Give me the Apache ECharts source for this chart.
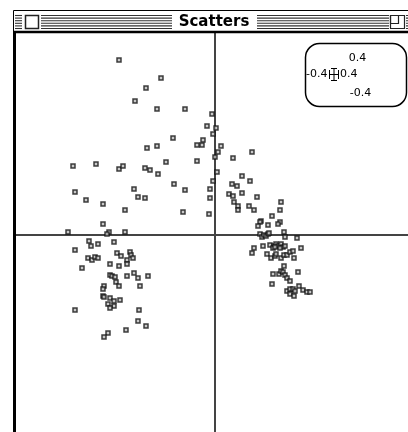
<!DOCTYPE html>
<html>
<head>
<meta charset="utf-8">
<script src="https://cdn.jsdelivr.net/npm/echarts@6/dist/echarts.min.js"></script>
<style>
html,body{margin:0;padding:0;background:#fff;}
#chart{width:408px;height:432px;}
</style>
</head>
<body>
<div id="chart"></div>
<script>
// ---- data (x, y) ----
const windowTitle = 'Scatters';
const scaleLabels = ['0.4', '-0.4', '0.4', '-0.4']; // top, left, right, bottom

const upperLeft = [
  [-0.96,1.75],[-0.54,1.57],[-0.69,1.47],[-0.80,1.34],[-0.58,1.26],[-0.30,1.26],
  [-0.03,1.21],[-0.08,1.09],[0.01,1.07],[-0.02,1.01],[-0.42,0.97],[-0.12,0.95],
  [-0.18,0.90],[-0.13,0.90],[-0.58,0.89],[-0.68,0.87],[0.06,0.89],[0.03,0.83],
  [0.00,0.78],[-1.42,0.69],[-1.19,0.71],[-0.96,0.66],[-0.92,0.69],[-0.70,0.67],
  [-0.65,0.65],[-0.49,0.73],[-0.57,0.61],[-0.18,0.74],[0.02,0.63],[-0.41,0.51],
  [-0.02,0.54],[-0.30,0.45],[-0.05,0.46],[-1.40,0.43],[-0.81,0.46],[-1.29,0.35],
  [-0.77,0.38],[-0.70,0.37],[-0.05,0.37],[-1.12,0.31],[-0.90,0.25],[-0.32,0.23],
  [-0.06,0.21],[-1.12,0.11],[-1.47,0.03],[-1.06,0.03],[-1.08,0.01],[-0.90,0.03]
];

const lowerLeft = [
  [-1.26,-0.06],[-1.24,-0.11],[-1.17,-0.09],[-1.01,-0.07],[-1.40,-0.15],[-0.98,-0.18],
  [-0.94,-0.21],[-0.85,-0.17],[-0.84,-0.20],[-0.82,-0.23],[-0.88,-0.25],[-0.88,-0.29],
  [-1.27,-0.23],[-1.23,-0.25],[-1.20,-0.22],[-1.17,-0.23],[-1.05,-0.29],[-0.96,-0.31],
  [-1.33,-0.33],[-1.05,-0.40],[-1.03,-0.41],[-1.00,-0.42],[-0.81,-0.38],[-0.77,-0.43],
  [-0.88,-0.41],[-0.67,-0.41],[-0.99,-0.47],[-0.96,-0.51],[-0.75,-0.51],[-1.11,-0.51],
  [-1.12,-0.54],[-1.12,-0.61],[-1.11,-0.62],[-1.05,-0.63],[-1.01,-0.66],[-0.95,-0.65],
  [-1.07,-0.69],[-1.01,-0.71],[-1.05,-0.73],[-1.40,-0.75],[-0.76,-0.75],[-0.77,-0.86],
  [-0.69,-0.91],[-0.89,-0.95],[-1.07,-0.98],[-1.11,-1.02]
];

const rightGroup = [
  [0.18,0.77],[0.37,0.83],[0.27,0.59],[0.35,0.54],[0.17,0.51],[0.22,0.49],
  [0.14,0.41],[0.18,0.39],[0.27,0.42],[0.42,0.38],[0.19,0.33],[0.66,0.33],
  [0.23,0.29],[0.23,0.25],[0.34,0.29],[0.39,0.25],[0.65,0.25],[0.57,0.19],
  [0.46,0.14],[0.45,0.13],[0.53,0.10],[0.43,0.09],[0.65,0.13],[0.63,0.11],
  [0.69,0.03],[0.45,0.01],[0.47,-0.02],[0.49,0.00],[0.51,-0.01],[0.53,0.01],
  [0.54,0.02],[0.70,-0.02],[0.82,-0.03],[0.39,-0.13],[0.48,-0.11],[0.37,-0.18],
  [0.55,-0.10],[0.59,-0.11],[0.58,-0.13],[0.61,-0.09],[0.63,-0.11],[0.66,-0.09],
  [0.68,-0.12],[0.70,-0.11],[0.65,-0.13],[0.60,-0.12],[0.86,-0.13],[0.52,-0.19],
  [0.56,-0.23],[0.60,-0.21],[0.61,-0.19],[0.66,-0.23],[0.69,-0.20],[0.72,-0.20],
  [0.75,-0.17],[0.78,-0.16],[0.79,-0.23],[0.69,-0.31],[0.58,-0.39],[0.64,-0.39],
  [0.66,-0.36],[0.68,-0.37],[0.70,-0.40],[0.72,-0.43],[0.75,-0.46],[0.83,-0.37],
  [0.57,-0.49],[0.84,-0.51],[0.88,-0.55],[0.92,-0.57],[0.95,-0.57],[0.72,-0.56],
  [0.75,-0.54],[0.78,-0.54],[0.80,-0.56],[0.75,-0.59],[0.79,-0.61]
];

// ---- window chrome ----
const graphics = [];
graphics.push({type:'rect', z:100, shape:{x:13.5,y:10.5,width:400,height:21}, style:{fill:'#fff',stroke:'#000',lineWidth:1}});
const stripeSegs = [[15,22],[41,172],[257,389],[406,412]];
for (let i = 0; i < 6; i++) {
  const y = 15.5 + i * 2.6;
  stripeSegs.forEach(s => graphics.push({type:'line', z:101, shape:{x1:s[0],y1:y,x2:s[1],y2:y}, style:{stroke:'#333',lineWidth:1.1}}));
}
graphics.push({type:'rect', z:102, shape:{x:25.5,y:15.5,width:13,height:13}, style:{fill:'#fff',stroke:'#222',lineWidth:1.5}});
graphics.push({type:'text', z:102, style:{text:windowTitle, x:214, y:22, textAlign:'center', textVerticalAlign:'middle', font:'bold 15px "DejaVu Sans"', fill:'#000'}});
graphics.push({type:'rect', z:102, shape:{x:390.5,y:15.5,width:14,height:13}, style:{fill:'#fff',stroke:'#222',lineWidth:1.2}});
graphics.push({type:'rect', z:103, shape:{x:390.5,y:15.5,width:8,height:8}, style:{fill:'none',stroke:'#222',lineWidth:1.2}});
graphics.push({type:'line', z:104, shape:{x1:13,y1:32,x2:412,y2:32}, style:{stroke:'#000',lineWidth:2.5}});
graphics.push({type:'line', z:104, shape:{x1:14.5,y1:31,x2:14.5,y2:440}, style:{stroke:'#000',lineWidth:3}});
// scale legend box
graphics.push({type:'rect', z:110, shape:{x:305.5,y:43.5,width:101,height:63,r:14}, style:{fill:'#fff',stroke:'#000',lineWidth:1.5}});
const lf = '11px "DejaVu Sans"';
graphics.push({type:'text', z:111, style:{text:scaleLabels[0], x:357.5, y:58.5, textAlign:'center', textVerticalAlign:'middle', font:lf, fill:'#000'}});
graphics.push({type:'text', z:111, style:{text:scaleLabels[1], x:327.5, y:74, textAlign:'right', textVerticalAlign:'middle', font:lf, fill:'#000'}});
graphics.push({type:'text', z:111, style:{text:scaleLabels[2], x:340, y:74, textAlign:'left', textVerticalAlign:'middle', font:lf, fill:'#000'}});
graphics.push({type:'text', z:111, style:{text:scaleLabels[3], x:360.5, y:93, textAlign:'center', textVerticalAlign:'middle', font:lf, fill:'#000'}});
const crossLines = [
  [329,74.5,339,74.5],[329.5,70,329.5,79],[338.5,70,338.5,79],
  [334,68,334,81],[331,68.5,337,68.5],[331,80.5,337,80.5]
];
crossLines.forEach(l => graphics.push({type:'line', z:111, shape:{x1:l[0],y1:l[1],x2:l[2],y2:l[3]}, style:{stroke:'#000',lineWidth:1}}));

const pointStyle = {color:'#bbb', borderColor:'#111', borderWidth:1.5};
const mkSeries = (name, data) => ({
  name, type:'scatter', data, symbol:'rect', symbolSize:4, itemStyle:pointStyle,
  emphasis:{disabled:true}, animation:false
});

const chart = echarts.init(document.getElementById('chart'), null, {renderer:'canvas'});
chart.setOption({
  backgroundColor:'#fff',
  animation:false,
  grid:{left:15, right:0, top:33, bottom:0, containLabel:false},
  xAxis:{type:'value', min:-2.0, max:1.93,
    axisLine:{show:true, onZero:true, lineStyle:{color:'#444', width:2}},
    axisTick:{show:false}, axisLabel:{show:false}, splitLine:{show:false}},
  yAxis:{type:'value', min:-1.97, max:2.02,
    axisLine:{show:true, onZero:true, lineStyle:{color:'#444', width:2}},
    axisTick:{show:false}, axisLabel:{show:false}, splitLine:{show:false}},
  series:[mkSeries('upperLeft', upperLeft), mkSeries('lowerLeft', lowerLeft), mkSeries('right', rightGroup)],
  graphic:graphics
});
</script>
</body>
</html>
